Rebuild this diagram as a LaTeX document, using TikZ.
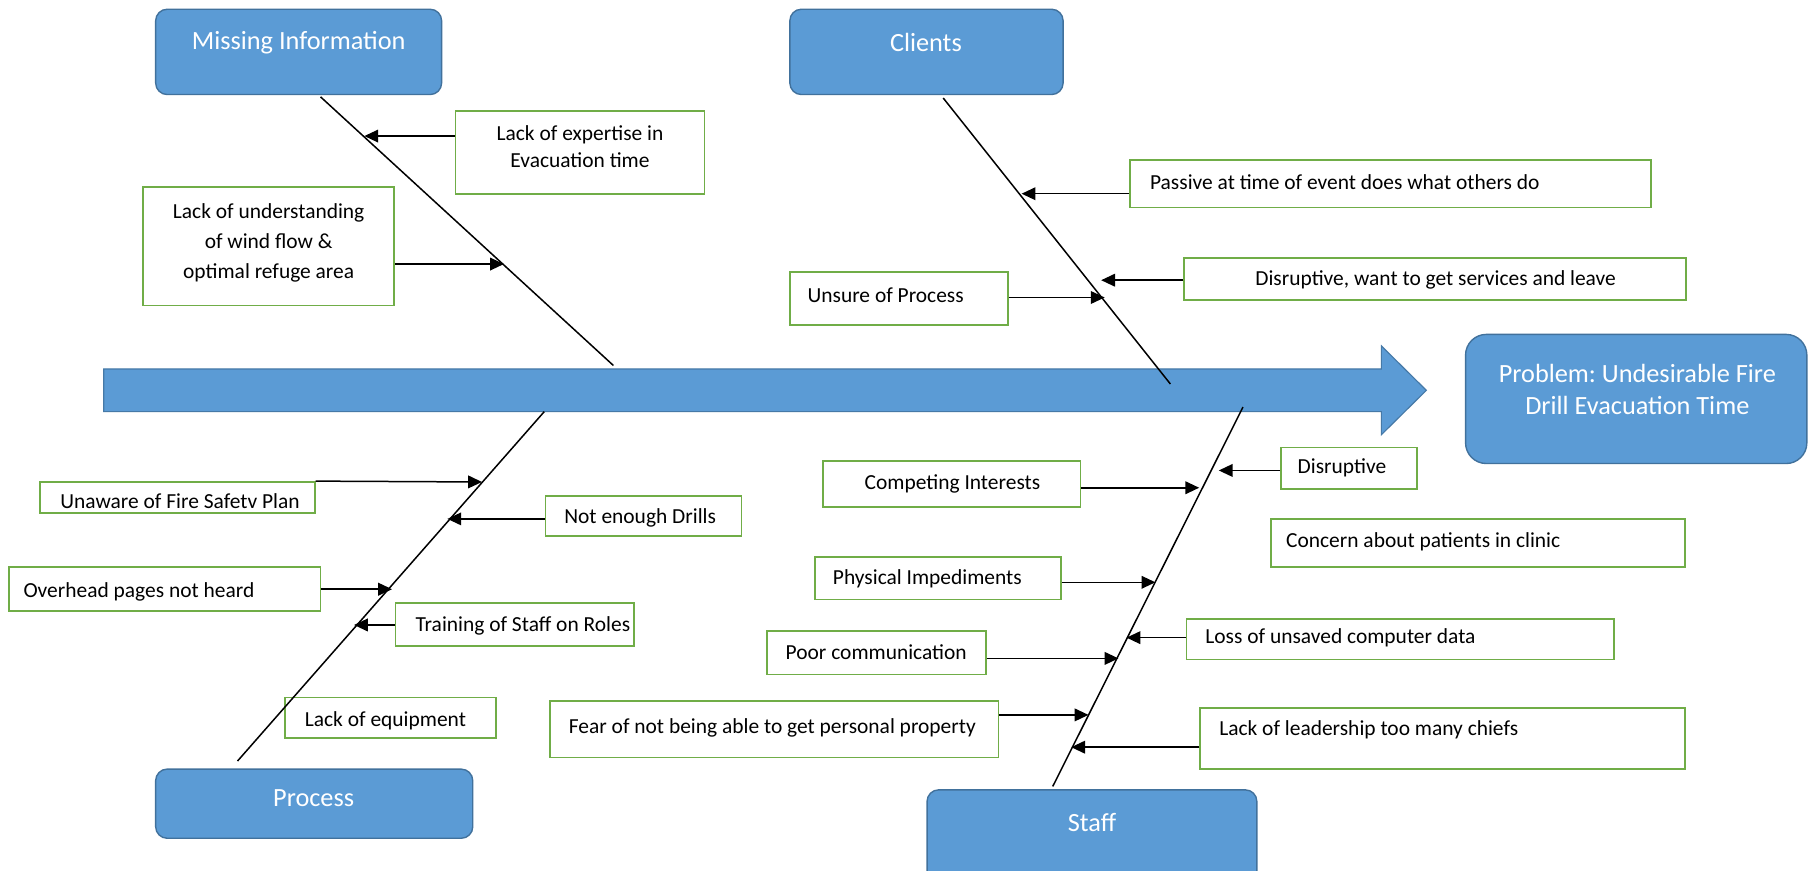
\documentclass[tikz,border=0pt]{standalone}
\usepackage{fontspec}
\setmainfont{Carlito}
\frenchspacing
\usetikzlibrary{arrows.meta,fit,calc}
\definecolor{catblue}{HTML}{5B9BD5}
\definecolor{catedge}{HTML}{41719C}
\definecolor{cgreen}{HTML}{70AD47}
\definecolor{ctxt}{HTML}{000000}
\tikzset{
  cat/.style={fill=catblue, draw=catedge, line width=0.6pt, rounded corners=5pt, inner sep=0pt},
  cattext/.style={text=white, font=\fontsize{11.4}{14}\selectfont, align=center, inner sep=0pt},
  cause/.style={draw=cgreen, line width=0.75pt, fill=white, inner sep=0pt},
  ctext/.style={text=ctxt, font=\fontsize{9.3}{11.5}\selectfont, inner sep=0pt, align=left},
  bone/.style={line width=0.65pt, black},
  carrow/.style={line width=0.65pt, black, -{Triangle[length=6pt,width=5.5pt]}},
  spine/.style={fill=catblue, draw=catedge!80!catblue, line width=0.5pt},
}
\begin{document}
\begin{tikzpicture}[x=0.5pt,y=-0.5pt]
\useasboundingbox[fill=white] (0,0) rectangle (1568,755);

% spine arrow
\coordinate (sp1) at (90,320);
\coordinate (sp2) at (1198,320);
\coordinate (sp3) at (1198,300);
\coordinate (sp4) at (1237,338.5);
\coordinate (sp5) at (1198,377);
\coordinate (sp6) at (1198,357);
\coordinate (sp7) at (90,357);
\draw[spine] (sp1) -- (sp2) -- (sp3) -- (sp4) -- (sp5) -- (sp6) -- (sp7) -- cycle;

% category boxes
\node[cat, fit={(135,8) (383,82)}] (mi) {};
\node[cattext] at (259,37) {Missing Information};
\node[cat, fit={(685,8) (922,82)}] (cl) {};
\node[cattext] at (803,37) {Clients};
\node[cat, fit={(135,667) (410,727)}] (pr) {};
\node[cattext] at (272,692) {Process};
\node[cat, fit={(804,685) (1090,775)}] (st) {};
\node[cattext] at (947,713) {Staff};
\node[cat, rounded corners=9pt, fit={(1271,290) (1567,402)}] (pb) {};
\node[cattext] at (1420,338) {Problem: Undesirable Fire\\Drill Evacuation Time};

% cause boxes
\node[cause, fit={(395,96) (611,168)}] (c1) {};
\node[ctext, align=center] at (503,127) {Lack of expertise in\\Evacuation time};
\node[cause, fit={(124,162) (342,265)}] (c2) {};
\node[ctext, align=center, font=\fontsize{9.3}{13}\selectfont] at (233,211) {Lack of understanding\\of wind flow \&\\optimal refuge area};

\node[cause, fit={(980,139) (1432,180)}] (c3) {};
\node[ctext, anchor=west] at (997,158) {Passive at time of event does what others do};
\node[cause, fit={(1027,224) (1462,260)}] (c4) {};
\node[ctext] at (1245,243) {Disruptive, want to get services and leave};
\node[cause, fit={(685,236) (874,282)}] (c5) {};
\node[ctext, anchor=west] at (700,256) {Unsure of Process};

\node[cause, fit={(35,418) (273,445)}] (p1) {};
\node[ctext, anchor=west] at (52,435) {Unaware of Fire Safetv Plan};
\node[cause, fit={(473,430) (643,465)}] (p2) {};
\node[ctext, anchor=west] at (489,449) {Not enough Drills};
\node[cause, fit={(8,492) (278,530)}] (p3) {};
\node[ctext, anchor=west] at (20,513) {Overhead pages not heard};
\node[cause, fit={(343,523) (550,560)}] (p4) {};
\node[ctext, anchor=west] at (360,543) {Training of Staff on Roles};
\node[cause, fit={(247,605) (430,640)}] (p5) {};
\node[ctext, anchor=west] at (264,625) {Lack of equipment};

\node[cause, fit={(714,400) (937,440)}] (s1) {};
\node[ctext] at (826,420) {Competing Interests};
\node[cause, fit={(1111,388) (1229,424)}] (s2) {};
\node[ctext, anchor=west] at (1125,406) {Disruptive};
\node[cause, fit={(1102,450) (1461,492)}] (s3) {};
\node[ctext, anchor=west] at (1115,470) {Concern about patients in clinic};
\node[cause, fit={(707,483) (920,520)}] (s4) {};
\node[ctext, anchor=west] at (722,502) {Physical Impediments};
\node[cause, fit={(1029,537) (1400,572)}] (s5) {};
\node[ctext, anchor=west] at (1045,553) {Loss of unsaved computer data};
\node[cause, fit={(665,547) (855,585)}] (s6) {};
\node[ctext, anchor=west] at (681,566) {Poor communication};
\node[cause, fit={(477,608) (866,657)}] (s7) {};
\node[ctext, anchor=west] at (493,631) {Fear of not being able to get personal property};
\node[cause, fit={(1041,614) (1461,667)}] (s8) {};
\node[ctext, anchor=west] at (1057,633) {Lack of leadership too many chiefs};

% bones
\coordinate (mi-a) at (278,84);  \coordinate (mi-b) at (532,317);
\coordinate (cl-a) at (818,85);  \coordinate (cl-b) at (1015,333);
\coordinate (pr-a) at (472,357); \coordinate (pr-b) at (206,660);
\coordinate (st-a) at (1078,353);\coordinate (st-b) at (913,682);
\draw[bone] (mi-a) -- (mi-b);
\draw[bone] (cl-a) -- (cl-b);
\draw[bone] (pr-a) -- (pr-b);
\draw[bone] (st-a) -- (st-b);

% arrow tips on bones
\coordinate (t1) at (316,118);
\coordinate (t2) at (437,229);
\coordinate (t3) at (886,168);
\coordinate (t4) at (955,243);
\coordinate (t5) at (958,258);
\coordinate (u1) at (418,418);
\coordinate (u2) at (388,450);
\coordinate (u3) at (340,511);
\coordinate (u4) at (307,542);
\coordinate (v1) at (1040,423);
\coordinate (v2) at (1057,408);
\coordinate (v4) at (1002,505);
\coordinate (v5) at (977,553);
\coordinate (v6) at (970,571);
\coordinate (v7) at (944,620);
\coordinate (v8) at (929,648);

\draw[carrow] (c1.west |- t1) -- (t1);
\draw[carrow] (c2.east |- t2) -- (t2);
\draw[carrow] (c3.west |- t3) -- (t3);
\draw[carrow] (c4.west |- t4) -- (t4);
\draw[carrow] (c5.east |- t5) -- (t5);
\draw[carrow] (p1.north east) -- (u1);
\draw[carrow] (p2.west |- u2) -- (u2);
\draw[carrow] (p3.east |- u3) -- (u3);
\draw[carrow] (p4.west |- u4) -- (u4);
\draw[carrow] (s1.east |- v1) -- (v1);
\draw[carrow] (s2.west |- v2) -- (v2);
\draw[carrow] (s4.east |- v4) -- (v4);
\draw[carrow] (s5.west |- v5) -- (v5);
\draw[carrow] (s6.east |- v6) -- (v6);
\draw[carrow] (s7.east |- v7) -- (v7);
\draw[carrow] (s8.west |- v8) -- (v8);
\end{tikzpicture}
\end{document}
